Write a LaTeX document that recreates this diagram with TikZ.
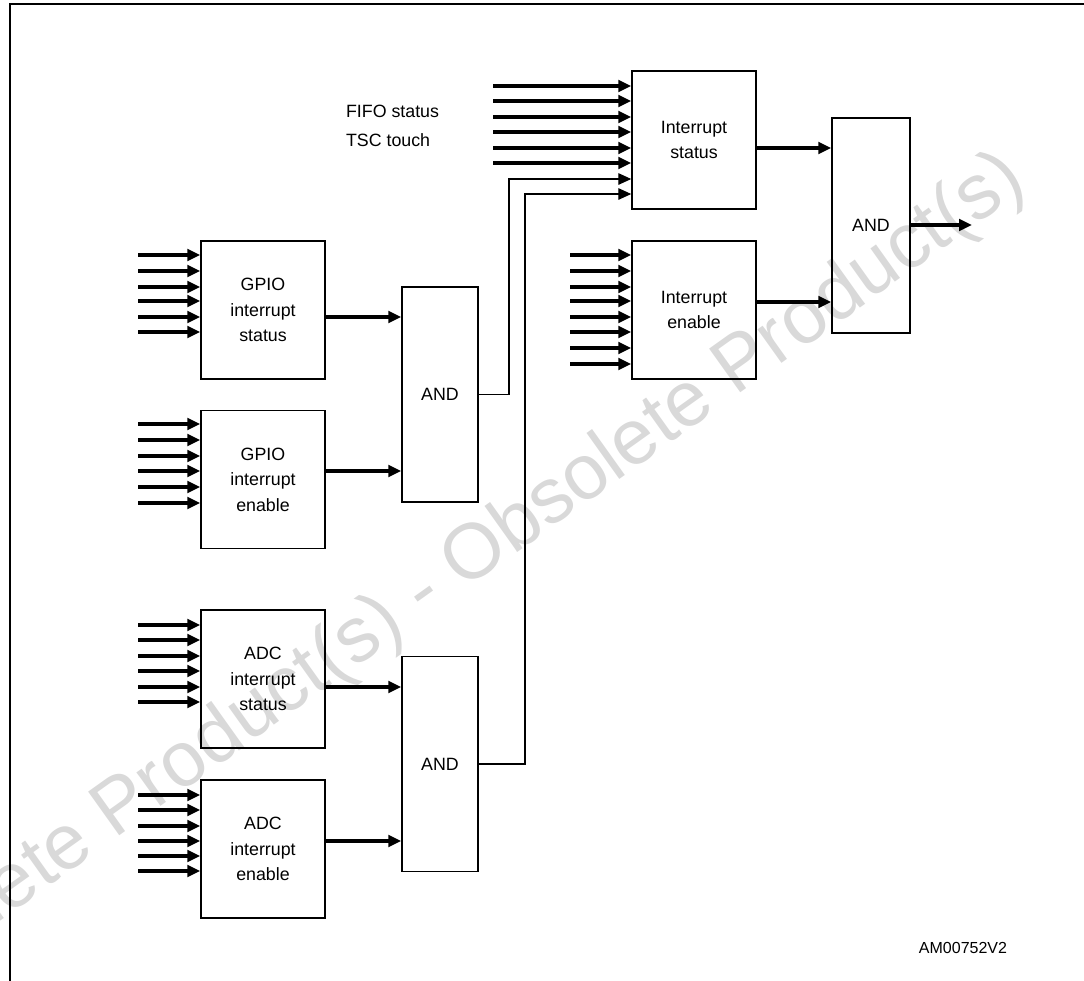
\documentclass[tikz,border=0pt]{standalone}
\usepackage{fontspec}
\setmainfont{Liberation Sans}
\usetikzlibrary{arrows.meta}
\begin{document}
\begin{tikzpicture}[x=0.5pt,y=-0.5pt,
  txt/.style={font=\fontsize{8.9pt}{12.75pt}\selectfont},
  blk/.style={draw, line width=0.75pt, inner sep=0pt, minimum width=62pt, minimum height=69pt, align=center, txt},
  andblk/.style={draw, line width=0.75pt, inner sep=0pt, minimum width=38pt, minimum height=107.5pt, txt},
  inarr/.style={line width=1.6pt, -{Triangle[length=6.5pt,width=5.8pt]}},
  thinarr/.style={line width=0.6pt, -{Triangle[length=6.5pt,width=5.8pt]}},
  frameline/.style={line width=1.2pt}
]
\useasboundingbox (0,0) rectangle (1084,981);
% watermark
\begin{scope}
\clip (0,0) rectangle (1084,981);
\node[rotate=35.5, text=black!15, font=\fontsize{39pt}{39pt}\selectfont] (wm) at (424,594) {Obsolete Product(s) - Obsolete Product(s)};
\end{scope}
% frame
\draw[frameline] (10,981) -- (10,4) -- (1084,4);

% blocks
\node[blk] (is) at (694,140) {Interrupt\\status};
\node[blk] (ie) at (694,310) {Interrupt\\enable};
\node[andblk, minimum width=39pt] (andF) at (871,225.5) {AND};
\node[blk] (gs) at (263,310) {GPIO\\interrupt\\status};
\node[blk] (ge) at (263,479.5) {GPIO\\interrupt\\enable};
\node[andblk] (andG) at (440,394.5) {AND};
\node[blk] (as) at (263,679) {ADC\\interrupt\\status};
\node[blk] (ae) at (263,849) {ADC\\interrupt\\enable};
\node[andblk] (andA) at (440,764) {AND};

% labels
\node[txt, anchor=west] (fifo) at (339,111) {FIFO status};
\node[txt, anchor=west] (tsc) at (339,140) {TSC touch};
\node[font=\fontsize{8pt}{9pt}\selectfont] (code) at (963,948) {AM00752V2};

% input arrows
\foreach \y in {86,101,117,132,148,163} \draw[inarr] (493,\y) -- (is.west |- 0,\y);
\foreach \y in {255,271,287,301,317,332,348,364} \draw[inarr] (570,\y) -- (ie.west |- 0,\y);
\foreach \y in {255,271,287,301,317,332} \draw[inarr] (138,\y) -- (gs.west |- 0,\y);
\foreach \y in {424,440,456,471,487,503} \draw[inarr] (138,\y) -- (ge.west |- 0,\y);
\foreach \y in {625,640,656,671,687,702} \draw[inarr] (138,\y) -- (as.west |- 0,\y);
\foreach \y in {795,810,826,841,856,871} \draw[inarr] (138,\y) -- (ae.west |- 0,\y);

% block to AND
\draw[inarr] (gs.east |- 0,317) -- (andG.west |- 0,317);
\draw[inarr] (ge.east |- 0,471) -- (andG.west |- 0,471);
\draw[inarr] (as.east |- 0,687) -- (andA.west |- 0,687);
\draw[inarr] (ae.east |- 0,841) -- (andA.west |- 0,841);

% AND outputs to interrupt status
\draw[thinarr] (andG.east) -| (509,179) -- (is.west |- 0,179);
\draw[thinarr] (andA.east) -| (525,194) -- (is.west |- 0,194);

% final stage
\draw[inarr] (is.east |- 0,148) -- (andF.west |- 0,148);
\draw[inarr] (ie.east |- 0,302) -- (andF.west |- 0,302);
\coordinate (out) at (972,225);
\draw[inarr] (andF.east |- out) -- (out);
\end{tikzpicture}
\end{document}
